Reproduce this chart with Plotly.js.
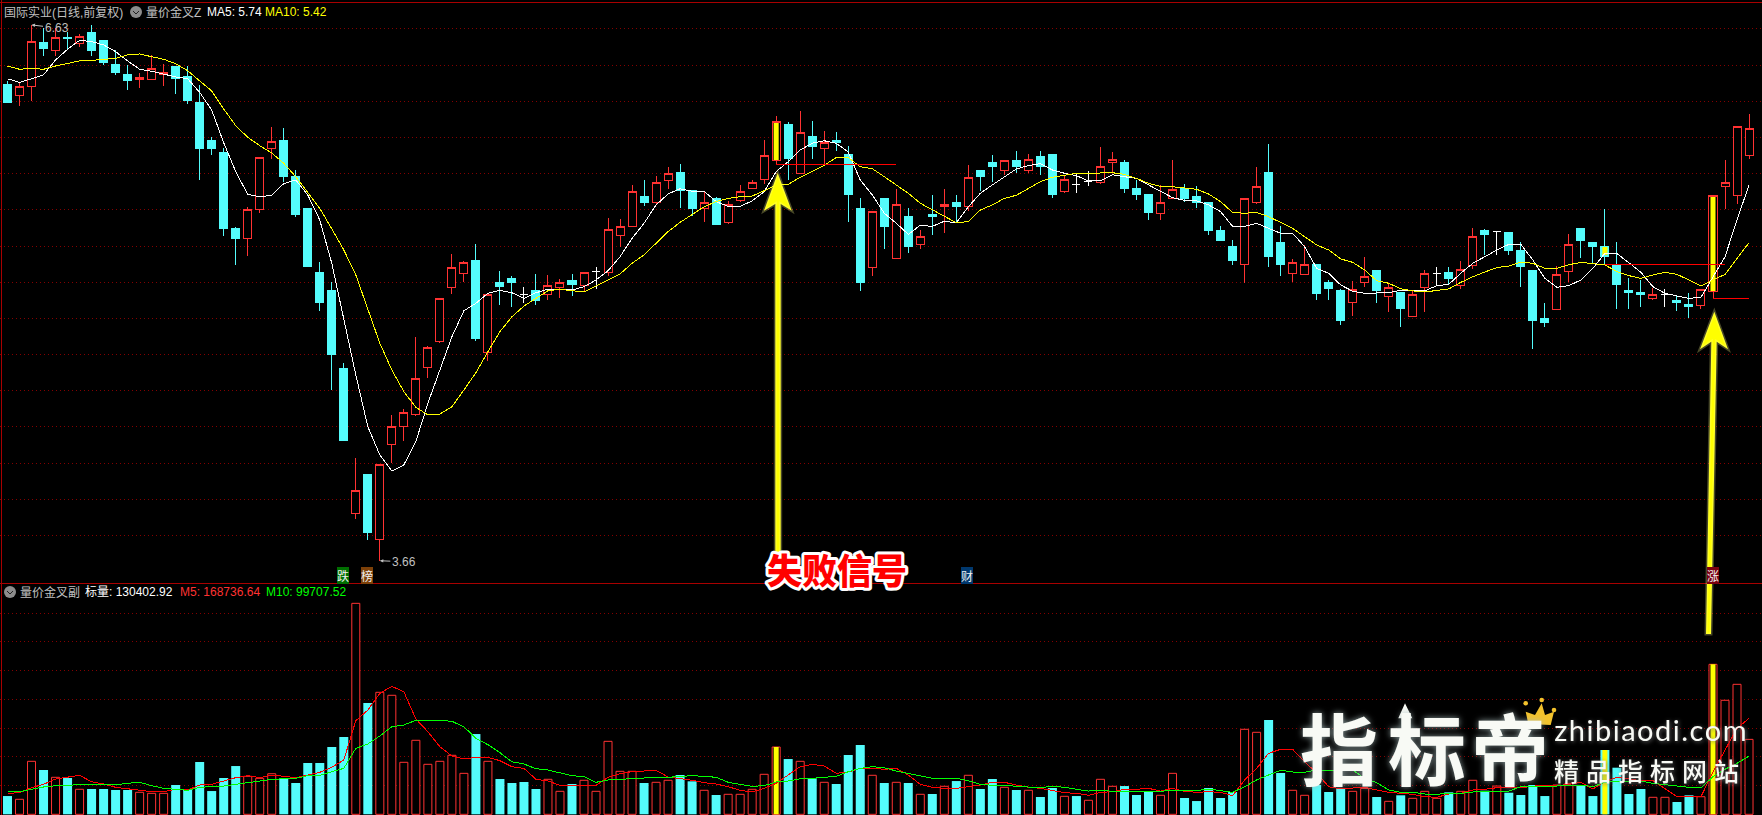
<!DOCTYPE html>
<html><head><meta charset="utf-8">
<script src="https://cdn.plot.ly/plotly-3.0.1.min.js"></script>
<style>
html,body{margin:0;padding:0;background:#000;overflow:hidden}
#chart{width:1762px;height:815px}
.trace.boxes path,.scatterlayer .js-line{shape-rendering:crispEdges}
</style></head><body><div id="chart"></div>
<script>
const opens=[
6.303,6.244,6.293,6.534,6.491,6.566,6.530,6.594,6.545,6.413,
6.363,6.334,6.334,6.361,6.407,6.347,6.204,5.995,5.929,5.511,
5.457,5.619,5.951,5.995,5.797,5.621,5.269,5.170,4.741,3.945,
4.158,3.802,4.324,4.427,4.489,4.750,4.891,5.188,5.267,5.340,
4.830,5.219,5.241,5.148,5.170,5.148,5.188,5.230,5.201,5.276,
5.274,5.475,5.525,5.687,5.656,5.776,5.819,5.720,5.621,5.681,
5.544,5.666,5.732,5.782,5.885,6.088,5.815,6.017,5.952,5.995,
5.918,5.626,5.298,5.681,5.346,5.577,5.423,5.588,5.633,5.659,
5.633,5.830,5.879,5.831,5.890,5.831,5.907,5.918,5.718,5.754,
5.771,5.765,5.875,5.879,5.731,5.698,5.595,5.677,5.731,5.687,
5.659,5.500,5.417,5.314,5.655,5.819,5.439,5.265,5.259,5.318,
5.219,5.170,5.105,5.215,5.280,5.138,5.159,5.028,5.188,5.267,
5.269,5.199,5.309,5.500,5.498,5.489,5.390,5.280,5.021,5.067,
5.276,5.511,5.439,5.417,5.313,5.170,5.159,5.127,5.153,5.120,
5.093,5.089,5.166,5.743,5.694,5.914];
const closes=[
6.204,6.295,6.543,6.506,6.565,6.556,6.570,6.495,6.424,6.374,
6.325,6.345,6.394,6.372,6.336,6.215,5.956,5.956,5.511,5.461,
5.619,5.905,5.993,5.797,5.588,5.302,5.104,4.823,4.345,4.073,
3.839,4.218,4.425,4.502,4.689,4.860,5.129,5.300,5.327,4.911,
5.151,5.192,5.219,5.148,5.120,5.199,5.217,5.203,5.269,5.276,
5.509,5.525,5.718,5.659,5.767,5.817,5.720,5.626,5.657,5.538,
5.646,5.718,5.767,5.916,6.103,5.896,6.042,5.967,5.987,5.989,
5.698,5.219,5.608,5.522,5.646,5.417,5.470,5.577,5.646,5.637,
5.795,5.797,5.857,5.888,5.857,5.894,5.857,5.698,5.784,5.754,
5.771,5.855,5.894,5.736,5.698,5.599,5.657,5.729,5.681,5.659,
5.500,5.450,5.340,5.679,5.745,5.362,5.318,5.327,5.316,5.158,
5.181,5.010,5.179,5.250,5.170,5.190,5.071,5.151,5.267,5.267,
5.241,5.289,5.470,5.478,5.498,5.390,5.302,5.010,4.994,5.263,
5.426,5.450,5.417,5.357,5.203,5.159,5.153,5.151,5.153,5.109,
5.082,5.179,5.696,5.767,6.075,6.064];
const highs=[
6.325,6.317,6.633,6.616,6.616,6.592,6.581,6.631,6.545,6.495,
6.413,6.367,6.466,6.416,6.407,6.407,6.303,6.017,5.954,5.522,
5.632,5.905,6.072,6.066,5.835,5.621,5.329,5.219,4.774,4.251,
4.158,4.218,4.488,4.521,4.917,4.867,5.129,5.373,5.335,5.428,
5.151,5.280,5.252,5.192,5.263,5.258,5.236,5.263,5.274,5.302,
5.571,5.566,5.753,5.780,5.802,5.852,5.868,5.720,5.716,5.687,
5.665,5.753,5.780,6.000,6.132,6.099,6.160,6.105,6.050,6.044,
5.967,5.681,5.608,5.681,5.731,5.626,5.505,5.698,5.731,5.698,
5.863,5.830,5.918,5.888,5.940,5.923,5.940,5.918,5.808,5.813,
5.830,5.962,5.934,5.890,5.780,5.698,5.753,5.890,5.758,5.747,
5.659,5.527,5.450,5.679,5.852,5.978,5.527,5.344,5.423,5.318,
5.230,5.181,5.225,5.357,5.280,5.214,5.159,5.175,5.285,5.302,
5.302,5.335,5.516,5.511,5.498,5.489,5.439,5.280,5.104,5.307,
5.483,5.511,5.439,5.621,5.439,5.241,5.230,5.186,5.181,5.148,
5.159,5.179,5.696,5.890,6.075,6.143];
const lows=[
6.204,6.187,6.215,6.462,6.462,6.495,6.513,6.462,6.413,6.358,
6.275,6.286,6.330,6.297,6.253,6.198,5.780,5.918,5.472,5.313,
5.362,5.599,5.896,5.769,5.577,5.302,5.060,4.625,4.345,3.916,
3.800,3.686,4.222,4.345,4.482,4.691,4.885,5.153,5.219,4.895,
4.785,5.093,5.082,5.104,5.093,5.120,5.131,5.142,5.164,5.181,
5.252,5.412,5.525,5.637,5.643,5.731,5.626,5.582,5.549,5.538,
5.538,5.661,5.731,5.756,5.863,5.780,5.815,5.896,5.868,5.940,
5.549,5.170,5.252,5.401,5.346,5.378,5.401,5.478,5.489,5.544,
5.610,5.720,5.769,5.808,5.819,5.820,5.808,5.681,5.709,5.709,
5.747,5.760,5.819,5.709,5.670,5.560,5.560,5.677,5.661,5.626,
5.478,5.450,5.313,5.215,5.648,5.302,5.252,5.219,5.259,5.120,
5.120,4.983,5.032,5.192,5.104,5.054,4.972,5.028,5.054,5.203,
5.203,5.181,5.291,5.368,5.368,5.368,5.192,4.851,4.972,5.067,
5.219,5.351,5.318,5.318,5.070,5.070,5.082,5.120,5.082,5.060,
5.021,5.071,5.129,5.621,5.648,5.896];
const ma5=[
6.337,6.317,6.337,6.359,6.440,6.499,6.548,6.541,6.523,6.486,
6.435,6.389,6.378,6.361,6.347,6.337,6.262,6.165,5.985,5.826,
5.701,5.688,5.696,5.760,5.780,5.698,5.560,5.322,5.010,4.708,
4.423,4.268,4.180,4.213,4.341,4.552,4.735,4.918,5.061,5.102,
5.157,5.173,5.160,5.129,5.160,5.179,5.177,5.175,5.193,5.230,
5.281,5.358,5.459,5.542,5.643,5.703,5.732,5.718,5.718,5.661,
5.635,5.635,5.665,5.716,5.826,5.881,5.945,5.982,5.996,5.982,
5.934,5.780,5.698,5.597,5.542,5.481,5.531,5.525,5.553,5.545,
5.633,5.707,5.753,5.798,5.841,5.859,5.870,5.835,5.817,5.804,
5.775,5.775,5.809,5.798,5.789,5.753,5.720,5.683,5.668,5.666,
5.643,5.606,5.525,5.525,5.542,5.514,5.487,5.487,5.413,5.294,
5.267,5.203,5.168,5.157,5.157,5.160,5.173,5.170,5.170,5.199,
5.206,5.267,5.322,5.358,5.395,5.426,5.426,5.340,5.239,5.190,
5.199,5.230,5.294,5.377,5.375,5.325,5.272,5.193,5.157,5.142,
5.129,5.135,5.248,5.358,5.560,5.753];
const ma10=[
6.407,6.389,6.394,6.389,6.407,6.420,6.435,6.438,6.444,6.449,
6.468,6.473,6.458,6.444,6.420,6.381,6.325,6.270,6.171,6.079,
6.015,5.969,5.929,5.872,5.798,5.712,5.624,5.511,5.395,5.258,
5.065,4.882,4.735,4.616,4.530,4.488,4.493,4.533,4.625,4.720,
4.836,4.946,5.028,5.087,5.129,5.171,5.179,5.173,5.164,5.197,
5.230,5.263,5.322,5.368,5.432,5.496,5.547,5.588,5.633,5.661,
5.679,5.688,5.692,5.721,5.753,5.756,5.795,5.828,5.861,5.903,
5.903,5.853,5.842,5.798,5.753,5.707,5.652,5.615,5.582,5.545,
5.551,5.615,5.643,5.679,5.696,5.734,5.771,5.795,5.808,5.817,
5.817,5.820,5.820,5.811,5.789,5.762,5.745,5.743,5.734,5.729,
5.703,5.661,5.602,5.597,5.602,5.578,5.547,5.514,5.468,5.423,
5.395,5.346,5.327,5.285,5.226,5.212,5.182,5.170,5.164,5.171,
5.181,5.217,5.248,5.274,5.298,5.307,5.329,5.322,5.294,5.294,
5.314,5.327,5.320,5.313,5.276,5.254,5.239,5.258,5.272,5.261,
5.230,5.197,5.230,5.261,5.349,5.435];
const volumeK=[
31.8,26.1,92.2,77.1,64.4,63.2,43.5,44.0,44.0,42.3,
42.3,38.3,36.5,36.5,51.0,42.3,91.0,40.5,63.2,84.0,
66.1,62.6,70.6,62.6,54.5,89.3,89.3,117.1,134.5,367.1,
193.7,212.3,207.1,90.5,128.8,87.0,92.2,102.7,71.3,139.7,
92.2,61.4,54.5,56.2,44.0,60.9,40.0,52.7,59.2,40.0,
127.0,74.8,74.8,54.5,55.7,59.2,68.4,57.4,41.8,33.6,
34.8,34.8,43.5,69.6,117.1,96.2,92.2,62.6,55.7,52.7,
103.2,120.6,67.9,54.5,55.7,54.5,34.8,35.3,48.7,57.9,
67.9,44.0,61.4,47.0,42.3,41.8,30.1,45.8,31.3,31.8,
24.4,60.9,48.7,49.2,33.6,38.8,33.1,71.3,28.4,23.1,
45.8,28.4,38.8,147.9,142.7,164.1,71.9,41.8,33.1,51.0,
38.8,45.2,40.0,45.2,30.1,22.6,33.1,27.8,40.0,27.8,
38.3,40.0,59.2,41.1,49.2,37.6,33.6,51.0,31.8,51.0,
53.9,51.0,31.8,111.9,81.1,35.3,44.0,29.6,29.6,21.4,
33.1,30.6,261.0,198.4,226.2,130.4];
const volM5=[
36.5,37.6,46.3,52.2,61.4,64.9,67.9,56.7,52.7,47.0,
44.0,42.3,39.3,39.3,43.5,42.3,51.0,52.2,57.9,63.7,
67.2,63.7,68.4,66.6,63.7,68.4,73.1,81.8,94.5,162.9,
181.5,210.5,222.7,213.3,165.8,143.7,117.6,101.4,96.2,99.2,
99.2,93.3,82.8,80.0,60.9,57.9,50.5,49.8,50.5,50.5,
64.4,70.6,74.1,75.3,76.6,64.9,62.6,59.2,55.0,52.7,
48.0,41.8,38.8,45.2,53.9,68.4,82.8,87.0,84.0,71.3,
73.6,80.0,80.0,78.3,80.0,68.4,52.2,47.0,45.2,45.2,
48.0,51.0,55.7,55.7,51.0,47.0,45.2,41.8,37.6,36.5,
33.1,38.3,39.3,43.5,43.5,45.2,40.5,45.2,40.0,38.3,
39.3,38.3,32.4,59.7,80.0,106.1,113.1,113.1,91.5,71.9,
48.0,44.5,45.2,47.0,42.3,38.3,36.5,34.8,30.6,29.6,
35.3,36.5,42.3,43.5,46.3,46.3,45.8,49.2,49.8,49.8,
52.2,55.7,44.0,56.7,64.4,60.9,58.5,58.5,44.0,30.6,
31.8,30.6,74.1,111.9,149.6,167.0];
const volM10=[
39.3,39.3,43.5,47.5,49.8,50.5,52.2,52.2,51.5,51.5,
53.9,55.7,49.8,45.2,43.5,41.8,47.0,47.5,49.2,52.2,
54.5,57.9,60.9,61.9,62.6,67.2,67.9,74.1,80.0,114.8,
122.3,136.2,152.4,155.4,163.6,163.6,163.6,161.8,152.4,132.2,
121.1,107.2,91.5,87.5,79.3,77.1,71.9,67.2,65.4,55.7,
59.7,60.9,62.6,62.6,64.4,64.4,66.1,67.2,66.1,64.4,
55.7,52.2,48.7,49.8,56.2,57.9,61.9,62.6,64.4,66.1,
74.1,80.0,82.8,81.1,75.3,71.3,66.6,62.6,62.6,62.6,
58.5,52.2,50.5,50.5,48.7,48.0,46.3,48.7,47.0,43.5,
40.5,41.8,40.0,40.0,40.0,40.0,40.0,41.8,41.1,41.1,
44.0,41.1,38.3,48.0,59.7,68.4,76.6,73.6,73.1,77.1,
75.9,75.9,77.1,62.6,55.0,42.3,38.3,38.3,35.3,34.8,
36.5,36.5,38.8,39.3,40.5,40.5,48.0,48.0,49.2,49.2,
51.0,51.0,48.0,55.7,57.9,57.9,57.9,53.9,51.0,49.2,
47.0,46.3,65.4,78.3,88.7,101.4];
const signalBars=[64,133,142];
const downDojis=[43,89];
const priceGrid=[6.614,6.409,6.213,6.015,5.817,5.619,5.415,5.217,5.019,4.821,4.623,4.425,4.222,4.024,3.826];
const volumeGrid=[50,100,150,200,250,300,350];
const signalLines=[{from:64,to:74,price:5.866},{from:133,to:143,price:5.316},{from:142,to:145,price:5.129}];
const legendTop=[
 ['国际实业(日线,前复权)',4,'#c0c0c0'],['量价金叉Z',146,'#c0c0c0'],['MA5: 5.74',207,'#ffffff'],['MA10: 5.42',265,'#ffff00']];
const legendBottom=[
 ['量价金叉副',20,'#c0c0c0'],['标量: 130402.92',85,'#ffffff'],['M5: 168736.64',180,'#ff3232'],['M10: 99707.52',266,'#00ff00']];
const eventTags=[['跌',342.5,'#006f00'],['榜',366.5,'#7d4008'],['财',967,'#00386e'],['涨',1713,'#7a0010']];

const RED='#ff3232',CYAN='#54fcfc',W=1762,H=815,SPLIT=583;
const px=x=>x/W, py=y=>1-y/H;
const all=opens.map((_,i)=>i);
const isDoji=i=>opens[i]===closes[i];
const isSignal=i=>signalBars.includes(i);
const pick=(a,idx)=>idx.map(i=>a[i]);
function candle(idx,inc,dec,fill){
  return {type:'candlestick',x:idx,open:pick(opens,idx),high:pick(highs,idx),low:pick(lows,idx),close:pick(closes,idx),
    xaxis:'x',yaxis:'y',whiskerwidth:0,hoverinfo:'skip',showlegend:false,
    increasing:{line:{color:inc,width:1},fillcolor:fill||'#000'},
    decreasing:{line:{color:dec,width:1},fillcolor:fill||dec}};
}
const upIdx=all.filter(i=>closes[i]>opens[i]&&!isSignal(i));
const dnIdx=all.filter(i=>closes[i]<opens[i]&&!isSignal(i));
const dojiIdx=all.filter(isDoji);
const volUp=i=>isDoji(i)?!downDojis.includes(i):closes[i]>opens[i];
const volUpIdx=all.filter(volUp), volDnIdx=all.filter(i=>!volUp(i));
function bar(xs,ys,yaxis,width,color,line,base){
  const t={type:'bar',x:xs,y:ys,xaxis:'x',yaxis,width,hoverinfo:'skip',showlegend:false,
    marker:{color,line:line?{color:line,width:1}:{width:0}}};
  if(base)t.base=base; return t;
}
function line(xs,ys,yaxis,color){
  return {type:'scatter',mode:'lines',x:xs,y:ys,xaxis:'x',yaxis,hoverinfo:'skip',showlegend:false,line:{color,width:1,shape:'linear'}};
}
const sigBase=signalBars.map(i=>Math.min(opens[i],closes[i]));
const sigHeight=signalBars.map(i=>Math.abs(opens[i]-closes[i]));
const data=[
  bar(signalBars,sigHeight,'y',.667,signalBars.map(i=>closes[i]>opens[i]?'#000':CYAN),null,sigBase),
  bar(signalBars,sigHeight,'y',.42,'#ffff00',null,sigBase),
  candle(upIdx,RED,RED),
  candle(dnIdx,CYAN,CYAN),
  candle(dojiIdx,'#ffffff','#ffffff'),
  candle(signalBars,RED,CYAN,'rgba(0,0,0,0)'),
  line(all,ma5,'y','#ffffff'),
  line(all,ma10,'y','#ffff00'),
  ...signalLines.map(s=>line([s.from,s.to],[s.price,s.price],'y','#ff0000')),
  bar(volUpIdx,pick(volumeK,volUpIdx),'y2',.667,'#000',RED),
  bar(volDnIdx,pick(volumeK,volDnIdx),'y2',.75,CYAN),
  bar(signalBars,pick(volumeK,signalBars),'y2',.42,'#ffff00'),
  line(all,volM5,'y2','#ff0000'),
  line(all,volM10,'y2','#00ff00')
];
const LABEL='"Liberation Sans","Noto Sans CJK SC",sans-serif';
const CJK='"Noto Sans CJK SC",sans-serif';
const ann=[];
function text(t,x,y,size,color,opt){
  ann.push(Object.assign({text:t,xref:'paper',yref:'paper',x:px(x),y:py(y),xanchor:'left',yanchor:'middle',showarrow:false,
    font:{family:LABEL,size,color},borderpad:0,borderwidth:0},opt||{}));
  return ann.length-1;
}
legendTop.forEach(r=>text(r[0],r[1],12,12,r[2]));
legendBottom.forEach(r=>text(r[0],r[1],592,12,r[2]));
eventTags.forEach(r=>text(r[0],r[1],575.5,12,'#f0f0f0',{xanchor:'center',bgcolor:r[2],font:{family:CJK,size:12,color:'#f0f0f0'}}));
ann.push({text:'6.63',xref:'x',yref:'y',x:2,y:highs[2],ax:25,ay:3,axref:'pixel',ayref:'pixel',showarrow:true,arrowhead:2,arrowsize:.7,arrowwidth:1,arrowcolor:'#c0c0c0',font:{family:LABEL,size:12,color:'#c0c0c0'}});
ann.push({text:'3.66',xref:'x',yref:'y',x:31,y:lows[31],ax:24,ay:1,axref:'pixel',ayref:'pixel',showarrow:true,arrowhead:2,arrowsize:.7,arrowwidth:1,arrowcolor:'#c0c0c0',font:{family:LABEL,size:12,color:'#c0c0c0'}});
const iFail=text('失败信号',837,568,35,'#ff0000',{xanchor:'center',font:{family:CJK,size:35,color:'#ff0000',weight:900}});
const iBig=[['指',1339],['标',1427],['帝',1510]].map(r=>text(r[0],r[1],746,78,'#f8faf5',{xanchor:'center',font:{family:CJK,size:78,color:'#f8faf5',weight:700}}));
const iUrl=text('zhibiaodi.com',1651,729,29,'#f8faf5',{xanchor:'center',font:{family:'Lato,sans-serif',size:29,color:'#f8faf5'}});
const iCn=text('精品指标网站',1650,770,25,'#f8faf5',{xanchor:'center',font:{family:CJK,size:25,color:'#f8faf5',weight:500}});

const css=document.createElement('style');
const A=i=>`.annotation[data-index="${i}"] text`;
css.textContent=`${A(iFail)}{paint-order:stroke;stroke:#fff;stroke-width:6px;stroke-linejoin:round}
${iBig.map(A).join(',')}{filter:drop-shadow(0 0 3px rgba(170,190,190,.8))}
${A(iUrl)},${A(iCn)}{filter:drop-shadow(1px 1px 2px rgba(120,120,120,.8))}
${A(iUrl)}{letter-spacing:1.5px}
${A(iCn)}{letter-spacing:7px}`;
document.head.appendChild(css);

const P=(pts)=>'M'+pts.map(p=>px(p[0])+','+py(p[1])).join('L')+'Z';
const glow='rgba(255,255,140,.28)';
function poly(pts,fill,lc,lw){return {type:'path',xref:'paper',yref:'paper',path:P(pts),fillcolor:fill,line:{color:lc||fill,width:lw===undefined?0:lw},layer:'above'};}
function dot(x,y,r,fill){return {type:'circle',xref:'paper',yref:'paper',x0:px(x-r),x1:px(x+r),y0:py(y+r),y1:py(y-r),fillcolor:fill,line:{width:0},layer:'above'};}
function seg(x0,y0,x1,y1,c){return {type:'line',xref:'paper',yref:'paper',x0:px(x0),x1:px(x1),y0:py(y0),y1:py(y1),line:{color:c,width:1},layer:'above'};}
const arrow1=[[777.7,173],[791.7,210.7],[780.7,204],[780.7,556],[775.3,556],[775.3,204],[764,210.7]];
const arrow2=[[1714.3,311.7],[1728,349.3],[1716.7,341.7],[1711,634],[1706,634],[1711.3,341.7],[1700,349.3]];
const shapes=[
  seg(0,2.5,W,2.5,'#a80000'),seg(1.5,0,1.5,H,'#a80000'),seg(0,583.5,W,583.5,'#a80000'),
  dot(136,12,6,'#8c8c8c'),seg(133,11,136,14,'#222'),seg(136,14,139,11,'#222'),
  dot(10,592,6,'#8c8c8c'),seg(7,591,10,594,'#222'),seg(10,594,13,591,'#222'),
  poly(arrow1,'#ffff00',glow,3),poly(arrow2,'#ffff00',glow,3),
  poly([[1405,703.3],[1412.3,718.3],[1408.5,718.3],[1408.5,735],[1401.5,735],[1401.5,718.3],[1398.3,718.3]],'#f8faf5'),
  poly([[1528.3,724],[1525.7,711.7],[1535,715],[1541.7,703.3],[1545,715],[1554,711.7],[1550.7,725]],'#f3c22c'),
  dot(1525.7,703.3,2.3,'#f3c22c'),dot(1541.7,700,2.3,'#f3c22c'),dot(1554,710,2.3,'#f3c22c')
];
const hideAxis={showticklabels:false,ticks:'',zeroline:false,showline:false,fixedrange:true};
const gridStyle={showgrid:true,gridcolor:'#840000',gridwidth:1,griddash:'1px,3px',tickmode:'array'};
const layout={
  width:W,height:H,margin:{l:0,r:0,t:0,b:0,pad:0},paper_bgcolor:'#000',plot_bgcolor:'#000',showlegend:false,
  hovermode:false,barmode:'overlay',boxgap:1/3,boxgroupgap:0,
  xaxis:Object.assign({},hideAxis,{showgrid:false,range:[-0.6245,146.08],rangeslider:{visible:false},anchor:'y2'}),
  yaxis:Object.assign({},hideAxis,gridStyle,{domain:[(H-SPLIT)/H,1],range:[3.5635,6.77],tickvals:priceGrid}),
  yaxis2:Object.assign({},hideAxis,gridStyle,{domain:[0,(H-SPLIT)/H],range:[-1.2,402.5],tickvals:volumeGrid}),
  annotations:ann,shapes
};
Plotly.newPlot('chart',data,layout,{staticPlot:true,displayModeBar:false});
</script></body></html>
